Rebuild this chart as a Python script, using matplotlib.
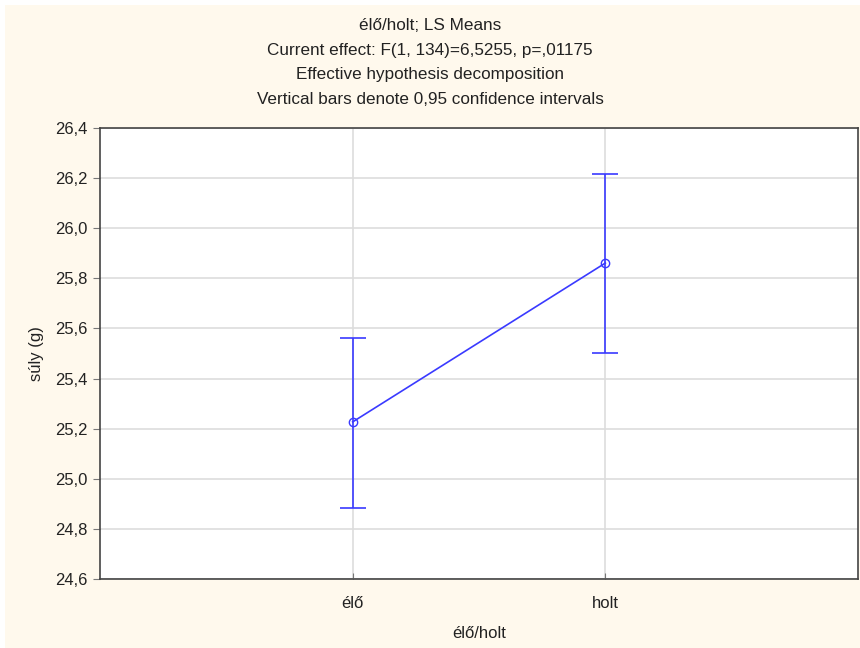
import matplotlib.pyplot as plt
from matplotlib.patches import Rectangle

plt.rcParams['font.family'] = ['Liberation Sans', 'DejaVu Sans']

# LS means and 0.95 confidence limits
groups = ['élő', 'holt']
means = [25.227, 25.861]
lower = [24.884, 25.502]
upper = [25.562, 26.215]
yticks = [24.6, 24.8, 25.0, 25.2, 25.4, 25.6, 25.8, 26.0, 26.2, 26.4]

title_lines = [
    'élő/holt; LS Means',
    'Current effect: F(1, 134)=6,5255, p=,01175',
    'Effective hypothesis decomposition',
    'Vertical bars denote 0,95 confidence intervals',
]

fig = plt.figure(figsize=(8.6, 6.48), dpi=100, facecolor='white')
# beige panel behind everything
fig.patches.append(Rectangle((5 / 860, 0), 1, 1 - 5 / 648, transform=fig.transFigure,
                             facecolor='#fff9ed', edgecolor='none', zorder=-10))

ax = fig.add_axes([100 / 860, 1 - 579 / 648, 758 / 860, 451 / 648])
ax.set_facecolor('white')

xs = [1, 2]
err_lo = [m - l for m, l in zip(means, lower)]
err_hi = [u - m for m, u in zip(means, upper)]
ax.errorbar(xs, means, yerr=[err_lo, err_hi], color='#3a3aff', lw=1.2,
            capsize=9.5, capthick=1.2, marker='o', markersize=6,
            markerfacecolor='none', markeredgecolor='#3a3aff', zorder=3)

ax.set_xlim(0, 3)
ax.set_ylim(24.6, 26.4)
ax.set_xticks(xs)
ax.set_xticklabels(groups)
ax.set_yticks(yticks)
ax.set_yticklabels([f'{t:.1f}'.replace('.', ',') for t in yticks])
ax.grid(True, color='#dddddd', lw=1.2)
ax.set_axisbelow(True)

for s in ax.spines.values():
    s.set_color('#444444')
    s.set_linewidth(1.2)
ax.tick_params(axis='y', direction='out', length=5, width=0.8, color='#777777',
               labelsize=12, labelcolor='#222222', pad=4)
ax.tick_params(axis='x', direction='in', length=4, width=0.8, color='#777777',
               labelsize=12, labelcolor='#222222', pad=12)

ax.set_xlabel('élő/holt', fontsize=12, color='#222222', labelpad=11)
ax.set_ylabel('súly (g)', fontsize=12, color='#222222', labelpad=8)

for i, line in enumerate(title_lines):
    fig.text(0.5, 1 - (26 + 24.5 * i) / 648, line, ha='center', va='center',
             fontsize=12.3, color='#222222')

fig.savefig('out.png', dpi=100, facecolor=fig.get_facecolor())
